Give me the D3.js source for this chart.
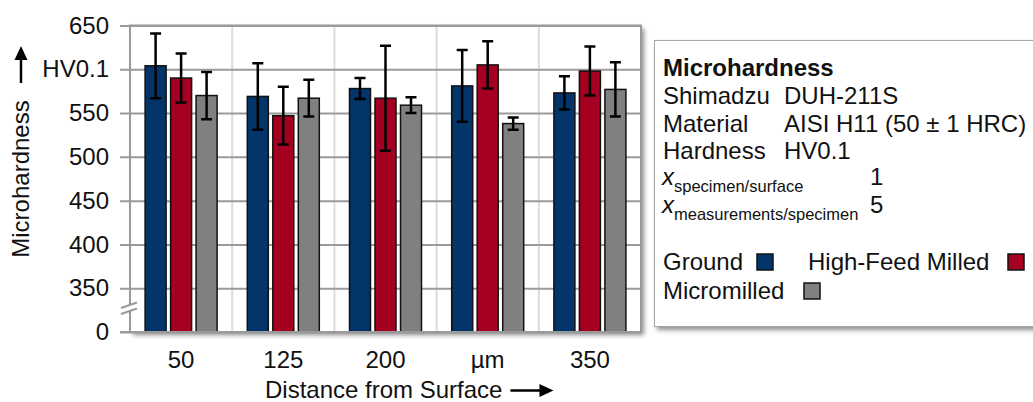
<!DOCTYPE html>
<html>
<head>
<meta charset="utf-8">
<script src="https://cdn.jsdelivr.net/npm/d3@7"></script>
<style>
  html, body { margin: 0; padding: 0; background: #fff; }
  svg { display: block; font-family: "Liberation Sans", Arial, sans-serif; }
</style>
</head>
<body>
<svg id="chart" width="1033" height="402"></svg>
<script>
// ---- data ----
const categories = ["50", "125", "200", "µm", "350"];
const seriesNames = ["Ground", "High-Feed Milled", "Micromilled"];
const groundMean = [604, 569, 578, 581, 573];
const groundErr = [37, 38, 12, 41, 19];
const hfmMean = [590, 547, 567, 605, 598];
const hfmErr = [28, 33, 60, 27, 28];
const microMean = [570, 567, 559, 538, 577];
const microErr = [27, 21, 9, 7, 31];
const yTickValues = [300, 350, 400, 450, 500, 550, 600, 650];
const yTickLabels = ["0", "350", "400", "450", "500", "550", "HV0.1", "650"];
const colors = ["#03356a", "#a50021", "#808080"];

const means = [groundMean, hfmMean, microMean];
const errs = [groundErr, hfmErr, microErr];
const FS = 24;

const svg = d3.select("#chart");
const defs = svg.append("defs");
const sh = defs.append("filter").attr("id", "shadow").attr("x", "-5%").attr("y", "-5%").attr("width", "115%").attr("height", "115%");
sh.append("feGaussianBlur").attr("in", "SourceAlpha").attr("stdDeviation", 2.5);
sh.append("feOffset").attr("dx", 3).attr("dy", 3).attr("result", "ob");
sh.append("feComponentTransfer").append("feFuncA").attr("type", "linear").attr("slope", 0.45);
const m = sh.append("feMerge");
m.append("feMergeNode");
m.append("feMergeNode").attr("in", "SourceGraphic");

const L = 130, R = 641, T = 25.5, B = 332;

const x0 = d3.scaleBand().domain(categories).range([L, R]).padding(0);
const step = 25.5, p = 4.5 / 25.5;
const bw0 = x0.bandwidth();
const x1 = d3.scaleBand().domain(seriesNames)
  .range([bw0 / 2 - 1.5 * step, bw0 / 2 + 1.5 * step])
  .paddingInner(p).paddingOuter(p / 2);
const y = d3.scaleLinear().domain([300, 650]).range([B, T]);

// plot background with shadow
svg.append("rect").attr("x", L).attr("y", T).attr("width", R - L).attr("height", B - T)
  .attr("fill", "#fff").attr("filter", "url(#shadow)");

// vertical gridlines
svg.append("g").selectAll("line").data(categories.slice(1)).join("line")
  .attr("x1", d => x0(d)).attr("x2", d => x0(d))
  .attr("y1", T).attr("y2", B)
  .attr("stroke", "#dcdcdc").attr("stroke-width", 2);

// horizontal gridlines + y axis
const yAxis = d3.axisLeft(y).tickValues(yTickValues)
  .tickFormat((d, i) => yTickLabels[i]).tickSize(-(R - L)).tickPadding(0);
const gy = svg.append("g").attr("transform", `translate(${L},0)`).call(yAxis);
gy.select(".domain").remove();
gy.selectAll(".tick line").attr("stroke", "#9a9a9a").attr("stroke-width", 2).attr("x1", -10);
gy.selectAll(".tick text").attr("x", -21).attr("font-size", FS).attr("fill", "#111")
  .attr("font-family", "Liberation Sans, Arial, sans-serif");

// plot border: left, top, right
svg.append("path").attr("d", `M${L},${B}V${T}H${R}V${B}`)
  .attr("fill", "none").attr("stroke", "#9a9a9a").attr("stroke-width", 2);

// bars
const groups = svg.append("g").selectAll("g").data(categories).join("g")
  .attr("transform", d => `translate(${x0(d)},0)`);
seriesNames.forEach((s, si) => {
  groups.append("rect")
    .attr("x", x1(s)).attr("width", x1.bandwidth())
    .attr("y", (d, i) => y(means[si][i]))
    .attr("height", (d, i) => B - y(means[si][i]))
    .attr("fill", colors[si]).attr("stroke", "#111").attr("stroke-width", 1.5);
});
// error bars
seriesNames.forEach((s, si) => {
  const cx = x1(s) + x1.bandwidth() / 2;
  const cap = 5.5;
  groups.append("path")
    .attr("d", (d, i) => {
      const hi = y(means[si][i] + errs[si][i]), lo = y(means[si][i] - errs[si][i]);
      return `M${cx},${hi}V${lo}M${cx - cap},${hi}H${cx + cap}M${cx - cap},${lo}H${cx + cap}`;
    })
    .attr("fill", "none").attr("stroke", "#000").attr("stroke-width", 2.5);
});

// bottom axis line
svg.append("line").attr("x1", L - 10).attr("x2", R).attr("y1", B).attr("y2", B)
  .attr("stroke", "#9a9a9a").attr("stroke-width", 2);

// axis break marks
const bk = svg.append("g");
bk.append("path").attr("d", "M120,313.5L138,307.5L138,302.5L120,308.5Z").attr("fill", "#fff");
bk.append("line").attr("x1", 121).attr("y1", 314).attr("x2", 137).attr("y2", 308.5).attr("stroke", "#9a9a9a").attr("stroke-width", 2);
bk.append("line").attr("x1", 121).attr("y1", 308).attr("x2", 137).attr("y2", 302.5).attr("stroke", "#9a9a9a").attr("stroke-width", 2);

// x axis labels
const xAxis = d3.axisBottom(x0).tickSize(0).tickPadding(0);
const gx = svg.append("g").attr("transform", `translate(0,${B})`).call(xAxis);
gx.select(".domain").remove();
gx.selectAll(".tick text").attr("y", 36).attr("dy", 0).attr("font-size", FS).attr("fill", "#111")
  .attr("font-family", "Liberation Sans, Arial, sans-serif");

// x title with arrow
const xt = svg.append("text").attr("x", 265).attr("y", 398).attr("font-size", FS).attr("fill", "#111")
  .text("Distance from Surface");
const xtEnd = 265 + xt.node().getComputedTextLength();
const ax0 = xtEnd + 8, ax1 = ax0 + 43, ay = 390.5;
svg.append("line").attr("x1", ax0).attr("x2", ax1 - 12).attr("y1", ay).attr("y2", ay).attr("stroke", "#000").attr("stroke-width", 2.5);
svg.append("path").attr("d", `M${ax1},${ay}L${ax1 - 14},${ay - 6.5}L${ax1 - 14},${ay + 6.5}Z`).attr("fill", "#000");

// y title with arrow
svg.append("text").attr("transform", "translate(29,179) rotate(-90)").attr("text-anchor", "middle")
  .attr("font-size", FS).attr("fill", "#111").text("Microhardness");
svg.append("line").attr("x1", 21).attr("x2", 21).attr("y1", 83).attr("y2", 58).attr("stroke", "#000").attr("stroke-width", 2.5);
svg.append("path").attr("d", "M21,46L14.5,60L27.5,60Z").attr("fill", "#000");

// legend box
const lg = svg.append("g");
lg.append("rect").attr("x", 654.5).attr("y", 40.5).attr("width", 420).attr("height", 286)
  .attr("fill", "#fff").attr("stroke", "#a6a6a6").attr("stroke-width", 1).attr("filter", "url(#shadow)");
lg.append("text").attr("x", 663).attr("y", 76).attr("font-size", FS).attr("font-weight", "bold").attr("fill", "#111").text("Microhardness");
const infoKeys = ["Shimadzu", "Material", "Hardness"];
const infoVals = ["DUH-211S", "AISI H11 (50 ± 1 HRC)", "HV0.1"];
infoKeys.forEach((k, i) => {
  lg.append("text").attr("x", 663).attr("y", 104 + i * 27.5).attr("font-size", FS).attr("fill", "#111").text(k);
  lg.append("text").attr("x", 784).attr("y", 104 + i * 27.5).attr("font-size", FS).attr("fill", "#111").text(infoVals[i]);
});
const subs = ["specimen/surface", "measurements/specimen"];
const subVals = ["1", "5"];
subs.forEach((s, i) => {
  const by = 185 + i * 28;
  const t = lg.append("text").attr("x", 662).attr("y", by).attr("font-size", FS).attr("fill", "#111");
  t.append("tspan").attr("font-style", "italic").text("x");
  t.append("tspan").attr("font-size", 16.5).attr("dy", 7).text(s);
  lg.append("text").attr("x", 870).attr("y", by).attr("font-size", FS).attr("fill", "#111").text(subVals[i]);
});
// legend entries
const legendPos = [
  { tx: 663, ty: 270, sx: 757, sy: 254 },
  { tx: 808, ty: 270, sx: 1008, sy: 254 },
  { tx: 663, ty: 299, sx: 804, sy: 283 }
];
seriesNames.forEach((s, i) => {
  const p = legendPos[i];
  lg.append("text").attr("x", p.tx).attr("y", p.ty).attr("font-size", FS).attr("fill", "#111").text(s);
  lg.append("rect").attr("x", p.sx).attr("y", p.sy).attr("width", 16).attr("height", 16)
    .attr("fill", colors[i]).attr("stroke", "#111").attr("stroke-width", 1.5);
});
</script>
</body>
</html>
